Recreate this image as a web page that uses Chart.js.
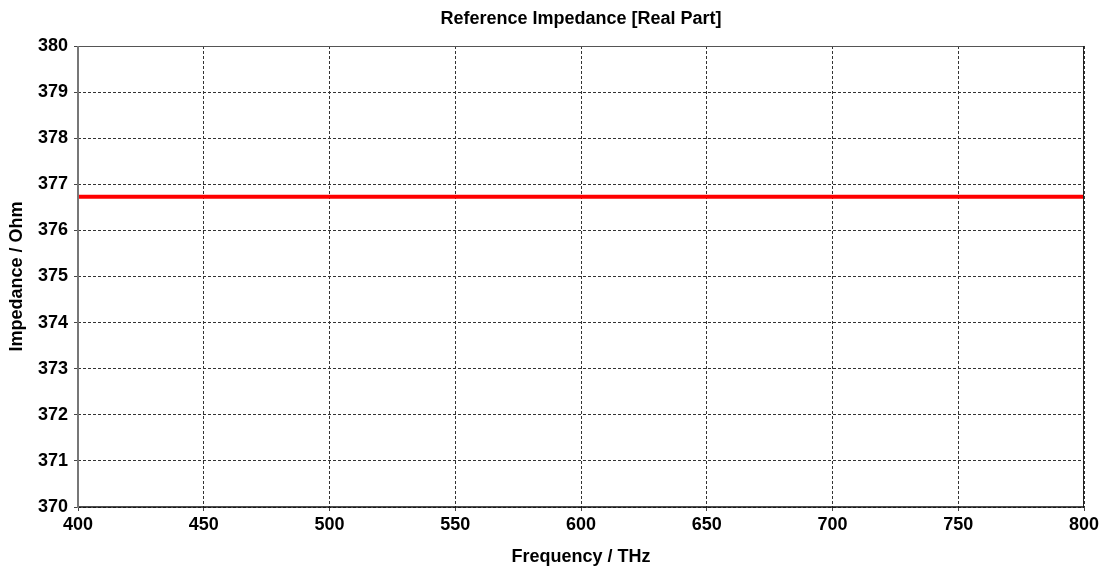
<!DOCTYPE html>
<html>
<head>
<meta charset="utf-8">
<script src="https://cdn.jsdelivr.net/npm/chart.js@4/dist/chart.umd.min.js"></script>
<style>
  body { margin: 0; background: #fff; }
  #wrap { width: 1109px; height: 570px; }
</style>
</head>
<body>
<div id="wrap"><canvas id="impChart" width="1109" height="570"></canvas></div>
<script>
const frequencies = [400, 450, 500, 550, 600, 650, 700, 750, 800];
const impedance = [376.73, 376.73, 376.73, 376.73, 376.73, 376.73, 376.73, 376.73, 376.73];
const xTicks = [400, 450, 500, 550, 600, 650, 700, 750, 800];
const yTicks = [370, 371, 372, 373, 374, 375, 376, 377, 378, 379, 380];

const chartTitle = 'Reference Impedance [Real Part]';
const fontFamily = '"Liberation Sans", Arial, sans-serif';

// title over the plot area + solid frame around it
const framePlugin = {
  id: 'frame',
  afterDraw(chart) {
    const { ctx, chartArea: a } = chart;
    ctx.save();
    ctx.setLineDash([]);
    const edge = (x1, y1, x2, y2, color, w) => {
      ctx.strokeStyle = color;
      ctx.lineWidth = w;
      ctx.beginPath();
      ctx.moveTo(x1, y1);
      ctx.lineTo(x2, y2);
      ctx.stroke();
    };
    edge(a.left, a.top + 0.5, a.right, a.top + 0.5, '#555', 1);
    edge(a.right - 0.5, a.top, a.right - 0.5, a.bottom, '#222', 1);
    edge(a.left - 1, a.bottom, a.right, a.bottom, '#111', 1.5);
    edge(a.left, a.top, a.left, a.bottom + 1, '#777', 2);
    ctx.fillStyle = '#000';
    ctx.font = 'bold 18px ' + fontFamily;
    ctx.textAlign = 'center';
    ctx.textBaseline = 'middle';
    ctx.fillText(chartTitle, (a.left + a.right) / 2, 19);
    ctx.restore();
  }
};

const ctx = document.getElementById('impChart').getContext('2d');
const chart = new Chart(ctx, {
  type: 'line',
  data: {
    datasets: [
      {
        label: 'Impedance',
        data: frequencies.map((f, i) => ({ x: f, y: impedance[i] })),
        borderColor: '#ff0000',
        borderWidth: 4,
        pointRadius: 0,
        fill: false,
      },
    ],
  },
  options: {
    responsive: false,
    animation: false,
    layout: { padding: { top: 46, right: 25, left: 0, bottom: 0 } },
    plugins: {
      legend: { display: false },
      tooltip: { enabled: false },
    },
    scales: {
      x: {
        type: 'linear',
        min: 400,
        max: 800,
        afterBuildTicks: (s) => { s.ticks = xTicks.map((v) => ({ value: v })); },
        afterFit: (s) => { s.height = 63; },
        ticks: {
          color: '#000',
          font: { family: fontFamily, weight: 'bold', size: 18 },
          padding: 3,
          maxRotation: 0,
        },
        grid: {
          color: '#333',
          tickBorderDash: [],
          tickLength: 4,
          tickColor: '#444',
        },
        border: { display: false, dash: [3, 2] },
        title: {
          display: true,
          text: 'Frequency / THz',
          color: '#000',
          font: { family: fontFamily, weight: 'bold', size: 18 },
          padding: { top: 4, bottom: 2 },
        },
      },
      y: {
        min: 370,
        max: 380,
        afterBuildTicks: (s) => { s.ticks = yTicks.map((v) => ({ value: v })); },
        afterFit: (s) => { s.width = 78; },
        ticks: {
          color: '#000',
          font: { family: fontFamily, weight: 'bold', size: 18 },
          padding: 6,
        },
        grid: {
          color: '#333',
          tickBorderDash: [],
          tickLength: 4,
          tickColor: '#444',
        },
        border: { display: false, dash: [3, 2] },
        title: {
          display: true,
          text: 'Impedance / Ohm',
          color: '#000',
          font: { family: fontFamily, weight: 'bold', size: 18 },
          padding: { top: 6, bottom: 6 },
        },
      },
    },
  },
  plugins: [framePlugin],
});
</script>
</body>
</html>
